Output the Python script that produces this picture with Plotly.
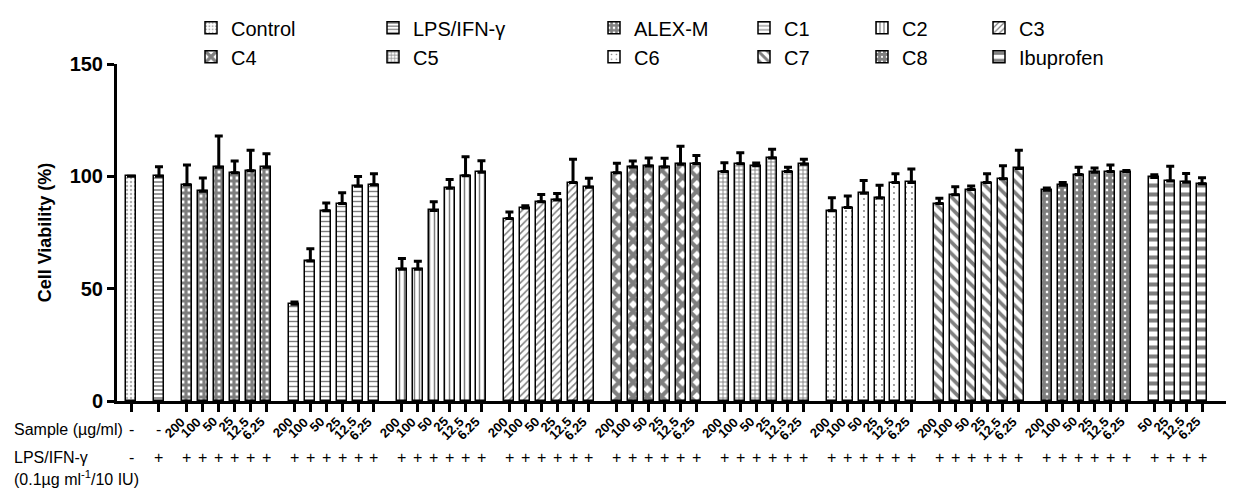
import plotly.graph_objects as go

# ---------------- data ----------------
groups = ["Control", "LPS/IFN-γ", "ALEX-M", "C1", "C2", "C3", "C4", "C5", "C6", "C7", "C8", "Ibuprofen"]

control_vals = [100.0]
control_err = [0.0]
lps_vals = [100.0]
lps_err = [4.3]
alexm_vals = [96.3, 93.4, 104.0, 101.6, 102.5, 104.0]
alexm_err = [8.8, 5.9, 14.0, 5.2, 9.1, 6.0]
c1_vals = [43.1, 62.3, 84.7, 87.9, 95.6, 96.3]
c1_err = [1.0, 5.5, 3.4, 4.8, 4.3, 4.8]
c2_vals = [58.6, 58.6, 84.8, 94.7, 100.3, 101.8]
c2_err = [4.8, 3.6, 3.9, 3.9, 8.4, 5.1]
c3_vals = [81.2, 85.9, 88.7, 89.5, 97.2, 95.1]
c3_err = [2.9, 1.0, 3.2, 2.9, 10.4, 4.1]
c4_vals = [101.6, 104.1, 104.6, 104.1, 105.4, 105.7]
c4_err = [4.2, 2.7, 3.6, 4.0, 8.0, 3.6]
c5_vals = [102.1, 105.6, 104.7, 108.2, 102.1, 105.4]
c5_err = [4.0, 4.9, 1.2, 3.8, 1.9, 2.2]
c6_vals = [84.7, 86.1, 92.5, 90.4, 97.2, 97.3]
c6_err = [5.8, 5.2, 5.7, 5.6, 4.0, 6.0]
c7_vals = [87.9, 91.8, 94.1, 97.2, 98.9, 103.5]
c7_err = [2.3, 3.6, 1.6, 3.9, 5.8, 8.1]
c8_vals = [93.8, 96.0, 100.8, 101.8, 102.1, 102.1]
c8_err = [1.0, 1.2, 3.2, 1.9, 2.9, 0.5]
ibu_vals = [99.5, 97.9, 97.4, 96.7]
ibu_err = [1.2, 6.6, 3.9, 2.7]

conc_labels = ["200", "100", "50", "25", "12.5", "6.25"]
ibu_conc_labels = ["50", "25", "12.5", "6.25"]
y_ticks = [0, 50, 100, 150]

values = [control_vals, lps_vals, alexm_vals, c1_vals, c2_vals, c3_vals,
          c4_vals, c5_vals, c6_vals, c7_vals, c8_vals, ibu_vals]
errors = [control_err, lps_err, alexm_err, c1_err, c2_err, c3_err,
          c4_err, c5_err, c6_err, c7_err, c8_err, ibu_err]
sample_labels = [["-"], ["-"]] + [conc_labels] * 9 + [ibu_conc_labels]
lps_labels = ["-", "+"] + ["+"] * 10

# ---------------- styles ----------------
patterns = [
    dict(shape=".", size=4, solidity=0.3, fgcolor="#666666"),
    dict(shape="-", size=4, solidity=0.4, fgcolor="black"),
    dict(shape="+", size=6, solidity=0.78, fgcolor="black"),
    dict(shape="-", size=5, solidity=0.28, fgcolor="black"),
    dict(shape="|", size=5, solidity=0.3, fgcolor="black"),
    dict(shape="/", size=5, solidity=0.3, fgcolor="black"),
    dict(shape="x", size=10, solidity=0.65, fgcolor="black"),
    dict(shape="+", size=4, solidity=0.4, fgcolor="black"),
    dict(shape=".", size=6, solidity=0.08, fgcolor="black"),
    dict(shape="\\", size=8, solidity=0.45, fgcolor="black"),
    dict(shape="+", size=6, solidity=0.85, fgcolor="black"),
    dict(shape="-", size=9, solidity=0.45, fgcolor="black"),
]
legend_of = ["legend", "legend2", "legend3", "legend4", "legend5", "legend6",
             "legend", "legend2", "legend3", "legend4", "legend5", "legend6"]

FONT = "Liberation Sans, Arial, sans-serif"
GAP = 1.76      # group gap (in bar slots)
SLOT = 1.0
BAR_W = 0.63

# x positions computed from group structure
xs = []
start = 0.0
for i, v in enumerate(values):
    if i > 0:
        start = xs[-1][-1] + GAP
    xs.append([start + j * SLOT for j in range(len(v))])

fig = go.Figure()
for i, name in enumerate(groups):
    fig.add_trace(go.Bar(
        x=xs[i], y=values[i], name=name, width=BAR_W,
        legend=legend_of[i],
        marker=dict(color="white", line=dict(color="black", width=1.5),
                    pattern=dict(bgcolor="white", **patterns[i])),
        error_y=dict(type="data", array=errors[i], arrayminus=[0] * len(errors[i]),
                     symmetric=False, thickness=3, width=4, color="black"),
    ))

all_x = [x for g in xs for x in g]

# ---------------- annotations ----------------
# page has 8px body margin; plot area spans x 117..1234, y 56..401 (page px)
def ypap(px):
    return (401 - px) / 345.0

def xpap(px):
    return (px - 117) / 1117.0

ann = []
for i in range(len(groups)):
    labs = sample_labels[i]
    for j, x in enumerate(xs[i]):
        if labs[j] == "-":
            ann.append(dict(x=x, y=ypap(430), xref="x", yref="paper", text="-",
                            xanchor="center", yanchor="middle",
                            showarrow=False, font=dict(size=16, family=FONT, color="black")))
        else:
            ann.append(dict(x=x, y=ypap(412), xref="x", yref="paper", text="<b>%s</b>" % labs[j],
                            textangle=-45, xanchor="right", yanchor="top", xshift=4,
                            showarrow=False, font=dict(size=13, family=FONT, color="black")))
    for j, x in enumerate(xs[i]):
        ann.append(dict(x=x, y=ypap(459), xref="x", yref="paper", text=lps_labels[i],
                        xanchor="center", yanchor="middle",
                        showarrow=False, font=dict(size=16, family=FONT, color="black")))

xl = xpap(12)
ann.append(dict(x=xl, y=ypap(430), xref="paper", yref="paper", text="Sample (µg/ml)",
                xanchor="left", yanchor="middle", showarrow=False,
                font=dict(size=16, family=FONT, color="black")))
ann.append(dict(x=xl, y=ypap(459), xref="paper", yref="paper", text="LPS/IFN-γ",
                xanchor="left", yanchor="middle", showarrow=False,
                font=dict(size=16, family=FONT, color="black")))
ann.append(dict(x=xl, y=ypap(480), xref="paper", yref="paper",
                text="(0.1µg ml<sup>-1</sup>/10 IU)",
                xanchor="left", yanchor="middle", showarrow=False,
                font=dict(size=16, family=FONT, color="black")))

# ---------------- layout ----------------
x0 = all_x[0] - (131 - 117) / 15.9
x1 = all_x[0] + (1234 - 131) / 15.9

def legend_at(px):
    return dict(x=xpap(px), y=ypap(-1), xanchor="left", yanchor="top",
                orientation="v", bgcolor="rgba(0,0,0,0)", borderwidth=0,
                font=dict(size=20, family=FONT, color="black"), tracegroupgap=0,
                itemwidth=30)

legend_cols_px = [191, 373, 594, 744, 862, 979]

fig.update_layout(
    width=1226, height=482,
    margin=dict(l=109, r=0, t=48, b=89),
    paper_bgcolor="white", plot_bgcolor="white",
    barmode="overlay", bargap=0,
    font=dict(family=FONT, color="black"),
    showlegend=True,
    legend=legend_at(legend_cols_px[0]),
    legend2=legend_at(legend_cols_px[1]),
    legend3=legend_at(legend_cols_px[2]),
    legend4=legend_at(legend_cols_px[3]),
    legend5=legend_at(legend_cols_px[4]),
    legend6=legend_at(legend_cols_px[5]),
    annotations=ann,
    xaxis=dict(range=[x0, x1], showgrid=False, zeroline=False,
               showline=True, linecolor="black", linewidth=3,
               tickmode="array", tickvals=all_x, showticklabels=False,
               ticks="outside", ticklen=8, tickwidth=3, tickcolor="black"),
    yaxis=dict(range=[0, 150], showgrid=False, zeroline=False,
               showline=True, linecolor="black", linewidth=3,
               tickmode="array", tickvals=y_ticks, ticktext=["<b>%d</b>" % t for t in y_ticks],
               ticks="outside", ticklen=7, tickwidth=3, tickcolor="black",
               tickfont=dict(size=20, family=FONT, color="black"),
               title=dict(text="<b>Cell Viability (%)</b>", standoff=14,
                          font=dict(size=18, family=FONT, color="black"))),
)

fig.write_html("out.html")
